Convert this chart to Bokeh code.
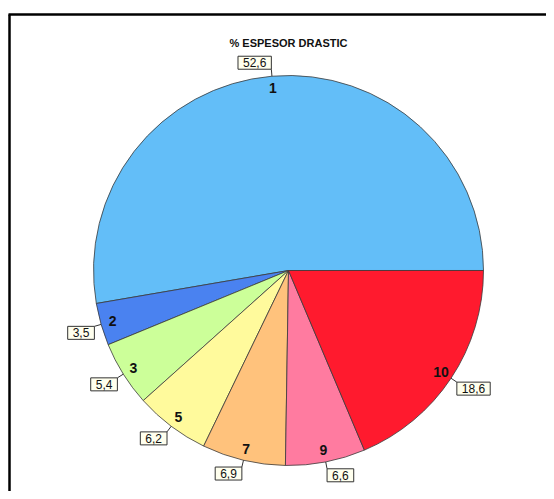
import math
from bokeh.plotting import figure
from bokeh.models import Range1d, ColumnDataSource
from bokeh.core.properties import value
from bokeh.embed import file_html
from bokeh.resources import INLINE

# ---- data ----
categories = ["1", "2", "3", "5", "7", "9", "10"]
percent = [52.6, 3.5, 5.4, 6.2, 6.9, 6.6, 18.6]
value_labels = ["52,6", "3,5", "5,4", "6,2", "6,9", "6,6", "18,6"]
colors = ["#63BEF8", "#4A82F0", "#CCFF99", "#FFFA9C", "#FFC27C", "#FF7BA0", "#FF1A2E"]
title_text = "% ESPESOR DRASTIC"

# ---- layout (pixel-like data space, y measured upward) ----
W, H = 546, 491
cx, cy, R = 288, H - 270, 195

total = sum(percent)
starts, ends, mids = [], [], []
acc = 0.0
for v in percent:
    a0 = 2 * math.pi * acc / total
    acc += v
    a1 = 2 * math.pi * acc / total
    starts.append(a0)
    ends.append(a1)
    mids.append((a0 + a1) / 2)

p = figure(width=W, height=H, x_range=Range1d(0, W), y_range=Range1d(0, H),
           output_backend="svg", toolbar_location=None, min_border=0)
p.axis.visible = False
p.grid.visible = False
p.outline_line_color = None
p.background_fill_color = "white"
p.border_fill_color = "white"

# frame (left and top edges visible)
p.line([9, 9], [0, H - 14], line_color="black", line_width=2.5)
p.line([8, W], [H - 14, H - 14], line_color="black", line_width=2.5)

src = ColumnDataSource(dict(start=starts, end=ends, color=colors))
p.wedge(x=cx, y=cy, radius=R, start_angle="start", end_angle="end",
        fill_color="color", line_color="#3a3a3a", line_width=0.8, source=src)

# number labels inside
lx = [cx + 183 * math.cos(a) for a in mids]
ly = [cy + 183 * math.sin(a) for a in mids]
p.text(x=lx, y=ly, text=categories, text_font=value("Liberation Sans"),
       text_font_style="bold", text_font_size="14px", text_color="#111111",
       text_align="center", text_baseline="middle")

# leader lines
xs, ys = [], []
for a in mids:
    xs.append([cx + R * math.cos(a), cx + (R + 7) * math.cos(a)])
    ys.append([cy + R * math.sin(a), cy + (R + 7) * math.sin(a)])
p.multi_line(xs=xs, ys=ys, line_color="#333333", line_width=1)

# value boxes
vx, vy, aligns, bases = [], [], [], []
for a in mids:
    vx.append(cx + (R + 7) * math.cos(a))
    vy.append(cy + (R + 7) * math.sin(a))
    aligns.append("left" if math.cos(a) >= 0 else "right")
    bases.append("bottom" if math.sin(a) >= 0 else "top")
vsrc = ColumnDataSource(dict(x=vx, y=vy, t=value_labels, al=aligns, bl=bases))
p.text(x="x", y="y", text="t", source=vsrc, text_font=value("Liberation Sans"),
       text_font_size="12px", text_color="#111111",
       text_align="al", text_baseline="bl",
       background_fill_color="#FFFFEE", border_line_color="#333333",
       border_line_width=1, padding=(5, 2))

# title
p.text(x=[cx], y=[H - 42], text=[title_text], text_font=value("Liberation Sans"),
       text_font_style="bold", text_font_size="11px", text_color="#111111",
       text_align="center", text_baseline="middle")

open("out.html", "w").write(file_html(p, INLINE))
